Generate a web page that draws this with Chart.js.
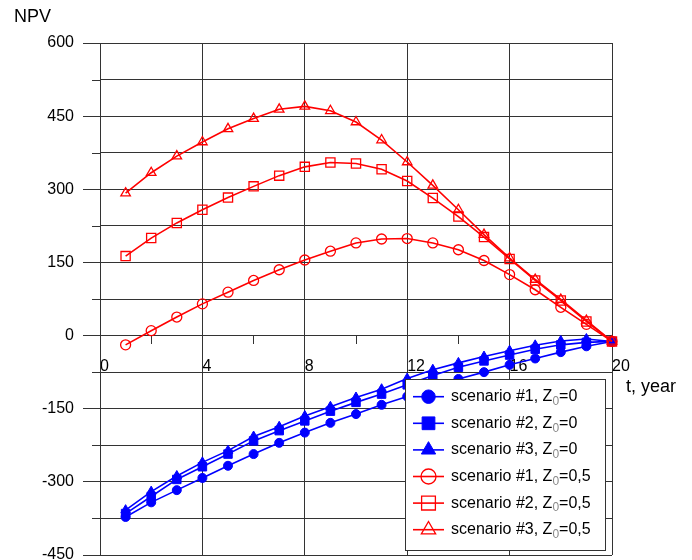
<!DOCTYPE html>
<html>
<head>
<meta charset="utf-8">
<title>NPV</title>
<script src="https://cdn.jsdelivr.net/npm/chart.js@4.4.0/dist/chart.umd.min.js"></script>
<style>
html, body { margin: 0; padding: 0; background: #fff; }
canvas { display: block; }
</style>
</head>
<body>
<canvas id="npv" width="692" height="560"></canvas>
<script>
// years on the x axis
var years = [1, 2, 3, 4, 5, 6, 7, 8, 9, 10, 11, 12, 13, 14, 15, 16, 17, 18, 19, 20];

// Z0 = 0 (blue, filled markers)
var s1_z0 = [-372, -342, -317, -292, -267, -243, -220, -199, -179, -161, -142, -125, -106, -89, -75, -60, -47, -34, -22, -12];
var s2_z0 = [-365, -330, -295, -269, -243, -216, -195, -175, -155, -137, -120, -101, -82, -65, -52, -40, -28, -19, -14, -12];
var s3_z0 = [-358, -320, -288, -260, -236, -207, -187, -165, -146, -127, -110, -88, -70, -56, -43, -31, -20, -11, -7, -12];

// Z0 = 0,5 (red, hollow markers)
var s1_z05 = [-19, 10, 38, 65, 89, 113, 135, 155, 173, 190, 198, 199, 190, 176, 154, 125, 94, 58, 23, -12];
var s2_z05 = [163, 200, 231, 258, 283, 306, 328, 346, 355, 353, 341, 317, 282, 244, 202, 157, 113, 72, 29, -12];
var s3_z05 = [292, 334, 368, 397, 424, 445, 464, 470, 461, 438, 401, 356, 308, 258, 207, 159, 115, 74, 31, -12];

var scenarioNames = ['scenario #1', 'scenario #2', 'scenario #3', 'scenario #1', 'scenario #2', 'scenario #3'];
var z0Values = ['0', '0', '0', '0,5', '0,5', '0,5'];

// tick labels
var xLabelTicks = [0, 4, 8, 12, 16, 20];
var yLabelTicks = [600, 450, 300, 150, 0, -150, -300, -450];

var FONT = '"Liberation Sans", Arial, sans-serif';
var gridColor = '#333';
var blue = '#0000ff';
var red = '#ff0000';

function pts(values) {
    var out = [];
    for (var i = 0; i < years.length; i++) out.push({x: years[i], y: values[i]});
    return out;
}

function series(idx, values, color, style, radius, hollow) {
    return {
        label: scenarioNames[idx] + ', Z\u2080=' + z0Values[idx],
        data: pts(values),
        borderColor: color,
        backgroundColor: hollow ? 'rgba(0,0,0,0)' : color,
        pointBackgroundColor: hollow ? 'rgba(0,0,0,0)' : color,
        pointBorderColor: color,
        pointBorderWidth: hollow ? 1.3 : 1,
        pointStyle: style,
        pointRadius: radius,
        pointHoverRadius: radius,
        borderWidth: 1.6,
        tension: 0,
        clip: false,
        order: hollow ? 0 : 1,
        legendRadius: radius * 1.5,
        hollow: hollow
    };
}

var datasets = [
    series(0, s1_z0, blue, 'circle', 4.5, false),
    series(1, s2_z0, blue, 'rect', 6, false),
    series(2, s3_z0, blue, 'triangle', 5.5, false),
    series(3, s1_z05, red, 'circle', 5, true),
    series(4, s2_z05, red, 'rect', 6.5, true),
    series(5, s3_z05, red, 'triangle', 5.5, true)
];

// short ticks for unlabelled y values, axis captions and the boxed legend
var extras = {
    id: 'extras',
    beforeDatasetsDraw: function(chart) {
        var ctx = chart.ctx;
        var y = chart.scales.y;
        var left = chart.chartArea.left;
        ctx.save();
        ctx.strokeStyle = gridColor;
        ctx.lineWidth = 1;
        y.ticks.forEach(function(t) {
            if (yLabelTicks.indexOf(t.value) >= 0) return;
            var py = Math.round(y.getPixelForValue(t.value)) + 0.5;
            ctx.beginPath();
            ctx.moveTo(left - 8, py);
            ctx.lineTo(left, py);
            ctx.stroke();
        });
        ctx.restore();
    },
    afterDraw: function(chart) {
        var ctx = chart.ctx;
        ctx.save();
        ctx.fillStyle = '#000';
        ctx.font = '18px ' + FONT;
        ctx.textBaseline = 'middle';
        ctx.textAlign = 'left';
        ctx.fillText('NPV', 14, 17);
        ctx.fillText('t, year', 626, 387);

        // legend box
        var bx = 405.5, by = 379.5, bw = 200, bh = 171;
        ctx.fillStyle = '#fff';
        ctx.fillRect(bx, by, bw, bh);
        ctx.strokeStyle = gridColor;
        ctx.lineWidth = 1;
        ctx.strokeRect(bx, by, bw, bh);

        chart.data.datasets.forEach(function(ds, i) {
            var ry = 396.7 + i * 26.6;
            ctx.strokeStyle = ds.borderColor;
            ctx.lineWidth = 1.6;
            ctx.beginPath();
            ctx.moveTo(413, ry);
            ctx.lineTo(444, ry);
            ctx.stroke();

            ctx.fillStyle = ds.hollow ? 'rgba(0,0,0,0)' : ds.borderColor;
            ctx.lineWidth = ds.hollow ? 1.3 : 1;
            Chart.helpers.drawPoint(ctx, {
                pointStyle: ds.pointStyle,
                radius: ds.legendRadius,
                rotation: 0,
                borderWidth: ctx.lineWidth
            }, 428.5, ry);

            var tx = 451;
            var main = scenarioNames[i] + ', Z';
            ctx.fillStyle = '#000';
            ctx.font = '16px ' + FONT;
            ctx.fillText(main, tx, ry);
            tx += ctx.measureText(main).width;
            ctx.fillStyle = '#888';
            ctx.font = '12px ' + FONT;
            ctx.fillText('0', tx, ry + 5);
            tx += ctx.measureText('0').width;
            ctx.fillStyle = '#000';
            ctx.font = '16px ' + FONT;
            ctx.fillText('=' + z0Values[i], tx, ry);
        });
        ctx.restore();
    }
};

function noPad(scale) {
    scale.paddingTop = 0;
    scale.paddingBottom = 0;
    scale.paddingLeft = 0;
    scale.paddingRight = 0;
}

new Chart(document.getElementById('npv'), {
    type: 'line',
    data: { datasets: datasets },
    options: {
        responsive: false,
        animation: false,
        events: [],
        layout: { autoPadding: false, padding: { left: 0, right: 80, top: 43, bottom: 5 } },
        plugins: {
            legend: { display: false },
            tooltip: { enabled: false },
            title: { display: false }
        },
        scales: {
            x: {
                type: 'linear',
                position: { y: 0 },
                min: 0,
                max: 20,
                afterFit: function(scale) { scale.height = 0; noPad(scale); },
                border: { display: true, color: gridColor, width: 1 },
                grid: {
                    color: function(c) {
                        return xLabelTicks.indexOf(c.tick.value) >= 0 ? gridColor : 'rgba(0,0,0,0)';
                    },
                    tickColor: gridColor,
                    tickLength: 8,
                    lineWidth: 1
                },
                ticks: {
                    stepSize: 2,
                    autoSkip: false,
                    maxRotation: 0,
                    align: 'start',
                    padding: 13,
                    color: '#000',
                    font: { family: FONT, size: 16 },
                    callback: function(v) {
                        return xLabelTicks.indexOf(v) >= 0 ? String(v) : '';
                    }
                }
            },
            y: {
                type: 'linear',
                min: -450,
                max: 600,
                afterFit: function(scale) { scale.width = 100; noPad(scale); },
                border: { display: true, color: gridColor, width: 1 },
                grid: {
                    color: gridColor,
                    lineWidth: 1,
                    tickLength: 17,
                    tickColor: function(c) {
                        return yLabelTicks.indexOf(c.tick.value) >= 0 ? gridColor : 'rgba(0,0,0,0)';
                    }
                },
                ticks: {
                    stepSize: 75,
                    autoSkip: false,
                    padding: 9,
                    color: '#000',
                    font: { family: FONT, size: 16 },
                    callback: function(v) {
                        return yLabelTicks.indexOf(v) >= 0 ? String(v) : '';
                    }
                }
            }
        }
    },
    plugins: [extras]
});
</script>
</body>
</html>
